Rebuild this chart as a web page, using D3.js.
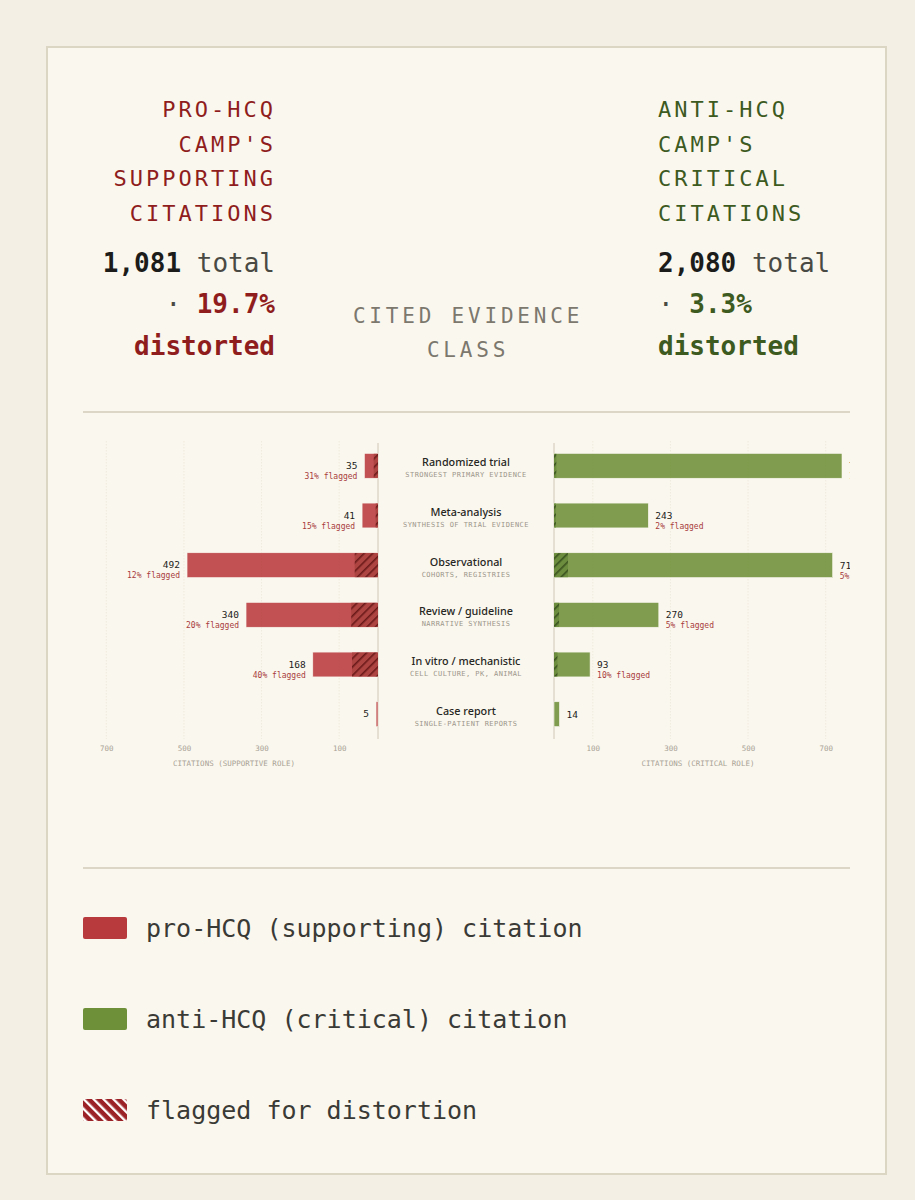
<!DOCTYPE html>
<html>
<head>
<meta charset="utf-8">
<script src="https://cdn.jsdelivr.net/npm/d3@7"></script>
<style>
  body { margin: 0; background: #f3efe5; }
  svg { display: block; }
</style>
</head>
<body>
<div id="chart"></div>
<script>
// evidence classes (rows)
const categories = ["Randomized trial", "Meta-analysis", "Observational", "Review / guideline", "In vitro / mechanistic", "Case report"];
const subtitles = ["STRONGEST PRIMARY EVIDENCE", "SYNTHESIS OF TRIAL EVIDENCE", "COHORTS, REGISTRIES", "NARRATIVE SYNTHESIS", "CELL CULTURE, PK, ANIMAL", "SINGLE-PATIENT REPORTS"];

// citations per class
const proTotal = [35, 41, 492, 340, 168, 5];
const proFlagged = [11, 6, 60, 69, 67, 0];
const antiTotal = [742, 243, 718, 270, 93, 14];
const antiFlagged = [6, 5, 36, 13, 9, 0];

const tickValues = [100, 300, 500, 700];
const legendItems = ["pro-HCQ (supporting) citation", "anti-HCQ (critical) citation", "flagged for distortion"];

const mono = "'DejaVu Sans Mono', 'Liberation Mono', monospace";
const sans = "'Noto Sans', 'Open Sans', sans-serif";

var col = {
  red: "#b83a3c", redDark: "#8f1d1d", redText: "#a83c3c",
  green: "#6e9038", greenDark: "#3d5a1f",
  ink: "#1c1c1a", gray: "#4a4a44", muted: "#7c786e", faint: "#a8a295",
  rule: "#dcd6c6"
};

var cfg = {
  width: 915, height: 1200,
  leftZero: 378, rightZero: 554, span: 288,
  top: 441, bottom: 739
};

var svg = d3.select("#chart").append("svg")
  .attr("width", cfg.width)
  .attr("height", cfg.height);

var defs = svg.append("defs");

function hatch(id, base, stroke, angle, size, sw){
  let p = defs.append("pattern")
    .attr("id", id)
    .attr("patternUnits", "userSpaceOnUse")
    .attr("width", size).attr("height", size)
    .attr("patternTransform", `rotate(${angle})`);
  p.append("rect").attr("width", size).attr("height", size).attr("fill", base);
  p.append("line")
    .attr("x1", sw / 2).attr("y1", 0).attr("x2", sw / 2).attr("y2", size)
    .attr("stroke", stroke).attr("stroke-width", sw);
}
hatch("hatch-red", "#ad4442", "#6b1a1a", 45, 6, 1.6);
hatch("hatch-green", "#6c8c3e", "#3a5320", 45, 6, 1.6);
hatch("hatch-legend", "#9b2226", "#ffffff", -45, 7, 2.4);

defs.append("clipPath").attr("id", "chart-clip")
  .append("rect").attr("x", 0).attr("y", 400).attr("width", 850).attr("height", 400);

// card
svg.append("rect")
  .attr("x", 47).attr("y", 47)
  .attr("width", 839).attr("height", 1127)
  .attr("fill", "#faf7ee")
  .attr("stroke", "#dbd5c3")
  .attr("stroke-width", 2);

// ---------- header ----------
function titleBlock(lines, x, anchor, color){
  let t = svg.append("g");
  lines.forEach((s, i) => {
    t.append("text")
      .attr("x", x).attr("y", 117 + i * 34.5)
      .attr("text-anchor", anchor)
      .style("font-family", mono)
      .style("font-size", "22px")
      .style("letter-spacing", "3px")
      .attr("fill", color)
      .text(s);
  });
}
titleBlock(["PRO-HCQ", "CAMP'S", "SUPPORTING", "CITATIONS"], 276, "end", col.redDark);
titleBlock(["ANTI-HCQ", "CAMP'S", "CRITICAL", "CITATIONS"], 658, "start", col.greenDark);

var proSum = d3.sum(proTotal), antiSum = d3.sum(antiTotal);
var proPct = d3.format(".1%")(d3.sum(proFlagged) / proSum);
var antiPct = d3.format(".1%")(d3.sum(antiFlagged) / antiSum);

function statBlock(total, pct, x, anchor, color){
  let t1 = svg.append("text")
    .attr("x", x).attr("y", 272).attr("text-anchor", anchor)
    .style("font-family", mono).style("font-size", "26px");
  t1.append("tspan").attr("font-weight", "bold").attr("fill", col.ink).text(d3.format(",")(total));
  t1.append("tspan").attr("fill", col.gray).text(" total");

  let t2 = svg.append("text")
    .attr("x", x).attr("y", 313).attr("text-anchor", anchor)
    .style("font-family", mono).style("font-size", "26px");
  t2.append("tspan").attr("fill", col.gray).text("· ");
  t2.append("tspan").attr("font-weight", "bold").attr("fill", color).text(pct);

  svg.append("text")
    .attr("x", x).attr("y", 355).attr("text-anchor", anchor)
    .style("font-family", mono).style("font-size", "26px")
    .attr("font-weight", "bold").attr("fill", color)
    .text("distorted");
}
statBlock(proSum, proPct, 275, "end", col.redDark);
statBlock(antiSum, antiPct, 658, "start", col.greenDark);

["CITED EVIDENCE", "CLASS"].forEach((s, i) => {
  svg.append("text")
    .attr("x", 468).attr("y", 323 + i * 34)
    .attr("text-anchor", "middle")
    .style("font-family", mono).style("font-size", "21px")
    .style("letter-spacing", "3.8px")
    .attr("fill", col.muted)
    .text(s);
});

// rules
[412, 868].forEach(y => {
  svg.append("line")
    .attr("x1", 83).attr("x2", 850).attr("y1", y).attr("y2", y)
    .attr("stroke", col.rule).attr("stroke-width", 2);
});

// ---------- butterfly chart ----------
var maxVal = d3.max(proTotal.concat(antiTotal));

var scale = {
  left: d3.scaleLinear().domain([0, maxVal]).range([cfg.leftZero, cfg.leftZero - cfg.span]),
  right: d3.scaleLinear().domain([0, maxVal]).range([cfg.rightZero, cfg.rightZero + cfg.span]),
  y: d3.scaleBand().domain(categories).range([cfg.top, cfg.bottom]).paddingInner(0.5).paddingOuter(0.25)
};

var chart = svg.append("g").attr("clip-path", "url(#chart-clip)");

// gridlines
["left", "right"].forEach(side => {
  chart.append("g").selectAll("line")
    .data(tickValues).enter().append("line")
    .attr("x1", d => scale[side](d)).attr("x2", d => scale[side](d))
    .attr("y1", cfg.top).attr("y2", cfg.bottom)
    .attr("stroke", "#efeadd").attr("stroke-dasharray", "1.5,1.5");
});

// center separators
[cfg.leftZero, cfg.rightZero].forEach(x => {
  chart.append("line")
    .attr("x1", x).attr("x2", x).attr("y1", cfg.top + 2).attr("y2", cfg.bottom)
    .attr("stroke", "#cfc7b6").attr("stroke-width", 1);
});

var rows = categories.map((c, i) => ({
  cat: c, sub: subtitles[i],
  pro: proTotal[i], proF: proFlagged[i],
  anti: antiTotal[i], antiF: antiFlagged[i]
}));
var bh = scale.y.bandwidth();
var pctLabel = (f, t) => Math.round(f / t * 100) + "% flagged";

// pro bars (left)
var proG = chart.append("g");
proG.selectAll("rect.bar").data(rows).enter().append("rect")
  .attr("class", "bar")
  .attr("x", d => scale.left(d.pro))
  .attr("y", d => scale.y(d.cat))
  .attr("width", d => cfg.leftZero - scale.left(d.pro))
  .attr("height", bh)
  .attr("fill", col.red).attr("fill-opacity", 0.88)
  .attr("stroke", "#faf7ee").attr("stroke-width", 0.6);
proG.selectAll("rect.flag").data(rows.filter(d => d.proF > 0)).enter().append("rect")
  .attr("class", "flag")
  .attr("x", d => scale.left(d.proF))
  .attr("y", d => scale.y(d.cat) + 0.4)
  .attr("width", d => cfg.leftZero - scale.left(d.proF))
  .attr("height", bh - 0.8)
  .attr("fill", "url(#hatch-red)");
proG.selectAll("text.num").data(rows).enter().append("text")
  .attr("x", d => scale.left(d.pro) - 7)
  .attr("y", d => scale.y(d.cat) + bh / 2 + 3)
  .attr("text-anchor", "end")
  .style("font-family", mono).style("font-size", "9.5px")
  .attr("fill", col.ink)
  .text(d => d.pro);
proG.selectAll("text.pct").data(rows.filter(d => d.proF > 0)).enter().append("text")
  .attr("x", d => scale.left(d.pro) - 7)
  .attr("y", d => scale.y(d.cat) + bh / 2 + 13)
  .attr("text-anchor", "end")
  .style("font-family", mono).style("font-size", "8px")
  .attr("fill", col.redText)
  .text(d => pctLabel(d.proF, d.pro));

// anti bars (right)
var antiG = chart.append("g");
antiG.selectAll("rect.bar").data(rows).enter().append("rect")
  .attr("class", "bar")
  .attr("x", cfg.rightZero)
  .attr("y", d => scale.y(d.cat))
  .attr("width", d => scale.right(d.anti) - cfg.rightZero)
  .attr("height", bh)
  .attr("fill", col.green).attr("fill-opacity", 0.88)
  .attr("stroke", "#faf7ee").attr("stroke-width", 0.6);
antiG.selectAll("rect.flag").data(rows.filter(d => d.antiF > 0)).enter().append("rect")
  .attr("class", "flag")
  .attr("x", cfg.rightZero)
  .attr("y", d => scale.y(d.cat) + 0.4)
  .attr("width", d => scale.right(d.antiF) - cfg.rightZero)
  .attr("height", bh - 0.8)
  .attr("fill", "url(#hatch-green)");
antiG.selectAll("text.num").data(rows).enter().append("text")
  .attr("x", d => scale.right(d.anti) + 7)
  .attr("y", d => scale.y(d.cat) + bh / 2 + 3.5)
  .style("font-family", mono).style("font-size", "9.5px")
  .attr("fill", col.ink)
  .text(d => d.anti);
antiG.selectAll("text.pct").data(rows.filter(d => d.antiF > 0)).enter().append("text")
  .attr("x", d => scale.right(d.anti) + 7)
  .attr("y", d => scale.y(d.cat) + bh / 2 + 13.5)
  .style("font-family", mono).style("font-size", "8px")
  .attr("fill", col.redText)
  .text(d => pctLabel(d.antiF, d.anti));

// center labels
var mid = (cfg.leftZero + cfg.rightZero) / 2;
var lab = chart.append("g");
lab.selectAll("text.cat").data(rows).enter().append("text")
  .attr("x", mid).attr("y", d => scale.y(d.cat) + bh / 2 + 0.5)
  .attr("text-anchor", "middle")
  .style("font-family", sans).style("font-size", "10.8px").style("font-weight", 500)
  .attr("fill", "#262623")
  .text(d => d.cat);
lab.selectAll("text.sub").data(rows).enter().append("text")
  .attr("x", mid).attr("y", d => scale.y(d.cat) + bh / 2 + 11.5)
  .attr("text-anchor", "middle")
  .style("font-family", mono).style("font-size", "7px").style("letter-spacing", "0.45px")
  .attr("fill", "#9c968a")
  .text(d => d.sub);

// axes
function drawAxis(side, title){
  let ax = svg.append("g")
    .attr("transform", `translate(0, ${cfg.bottom + 3})`)
    .call(d3.axisBottom(scale[side]).tickValues(tickValues).tickSize(0).tickPadding(4));
  ax.select(".domain").remove();
  ax.selectAll("text")
    .style("font-family", mono).style("font-size", "7.5px")
    .attr("fill", col.faint);
  let r = scale[side].range();
  svg.append("text")
    .attr("x", (r[0] + r[1]) / 2).attr("y", 766)
    .attr("text-anchor", "middle")
    .style("font-family", mono).style("font-size", "7.5px")
    .attr("fill", col.faint)
    .text(title);
}
drawAxis("left", "CITATIONS (SUPPORTIVE ROLE)");
drawAxis("right", "CITATIONS (CRITICAL ROLE)");

// ---------- legend ----------
var legendFills = [col.red, col.green, "url(#hatch-legend)"];
var lg = svg.append("g").selectAll("g")
  .data(legendItems).enter().append("g")
  .attr("transform", (d, i) => `translate(83, ${928 + i * 91})`);
lg.append("rect")
  .attr("x", 0).attr("y", -11)
  .attr("width", 44).attr("height", 22).attr("rx", 2)
  .attr("fill", (d, i) => legendFills[i]);
lg.append("text")
  .attr("x", 63).attr("y", 9)
  .style("font-family", mono).style("font-size", "25px")
  .attr("fill", "#3a3a36")
  .text(d => d);
</script>
</body>
</html>
